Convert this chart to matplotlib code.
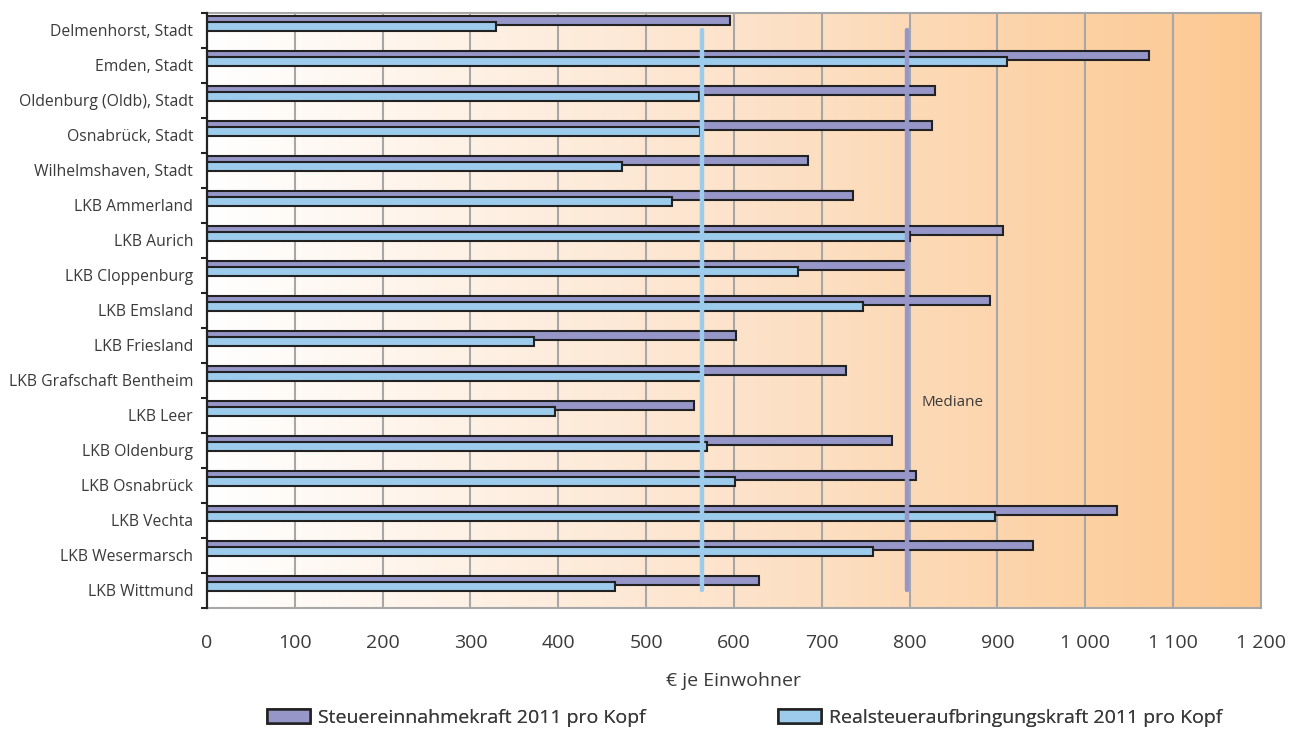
import numpy as np
import matplotlib.pyplot as plt
from matplotlib.colors import LinearSegmentedColormap
from matplotlib.patches import Patch

plt.rcParams['font.family'] = ['Open Sans', 'DejaVu Sans']

regions = [
    "Delmenhorst, Stadt", "Emden, Stadt", "Oldenburg (Oldb), Stadt",
    "Osnabrück, Stadt", "Wilhelmshaven, Stadt", "LKB Ammerland",
    "LKB Aurich", "LKB Cloppenburg", "LKB Emsland", "LKB Friesland",
    "LKB Grafschaft Bentheim", "LKB Leer", "LKB Oldenburg",
    "LKB Osnabrück", "LKB Vechta", "LKB Wesermarsch", "LKB Wittmund",
]
steuereinnahmekraft = [595, 1072, 829, 825, 684, 735, 906, 797, 891, 602,
                       727, 554, 780, 807, 1036, 940, 629]
realsteuerkraft = [329, 911, 560, 561, 473, 529, 800, 673, 747, 372,
                   564, 396, 569, 601, 897, 758, 464]
xticks = np.arange(0, 1201, 100)
xticklabels = ["0", "100", "200", "300", "400", "500", "600", "700", "800",
               "900", "1 000", "1 100", "1 200"]
legend_labels = ["Steuereinnahmekraft 2011 pro Kopf",
                 "Realsteueraufbringungskraft 2011 pro Kopf"]

purple = "#9696c8"
blue = "#9ccbeb"
grid = "#a7a7a7"
edge = "#222222"
txt = "#3a3a3a"

fig = plt.figure(figsize=(13.01, 7.42), dpi=100)
ax = fig.add_axes([0.1591, 0.1806, 0.8101, 0.8019])

n = len(regions)
y = np.arange(n)

# soft white-to-orange background
cmap = LinearSegmentedColormap.from_list("bg", ["#ffffff", "#fde3cb", "#fcc890"])
ax.imshow(np.linspace(0, 1, 256).reshape(1, -1), cmap=cmap, aspect="auto",
          extent=(0, 1200, n - 0.5, -0.5), zorder=0)

for xv in xticks[1:-1]:
    ax.axvline(xv, color=grid, lw=1.5, zorder=1)

h = 0.28
ax.barh(y - 0.286, steuereinnahmekraft, height=h, color=purple,
        edgecolor=edge, lw=1.5, zorder=3)
ax.barh(y - 0.114, realsteuerkraft, height=h, color=blue,
        edgecolor=edge, lw=1.5, zorder=4)

med_s = np.median(steuereinnahmekraft)
med_r = np.median(realsteuerkraft)
ax.plot([med_r, med_r], [0, n - 1], color=blue, lw=3.2, solid_capstyle="round", zorder=5)
ax.plot([med_s, med_s], [0, n - 1], color=purple, lw=3.2, solid_capstyle="round", zorder=5)
ax.text(med_s + 17, 10.64, "Mediane", color=txt, fontsize=11, va="center", ha="left")

ax.set_xlim(0, 1200)
ax.set_ylim(n - 0.5, -0.5)

ax.set_xticks(xticks)
ax.set_xticklabels(xticklabels, fontsize=14, color=txt)
ax.tick_params(axis="x", length=0, pad=19)
ax.set_xlabel("€ je Einwohner", fontsize=14, color=txt, labelpad=14)

ax.set_yticks(y)
ax.set_yticklabels(regions, fontsize=11.3, color=txt)
ax.set_yticks(np.arange(n + 1) - 0.5, minor=True)
ax.tick_params(axis="y", which="major", length=0, pad=10)
ax.tick_params(axis="y", which="minor", length=4, width=1.5, color=edge)

for side in ("top", "right", "bottom"):
    ax.spines[side].set_color(grid)
    ax.spines[side].set_linewidth(1.5)
ax.spines["left"].set_color(edge)
ax.spines["left"].set_linewidth(1.6)
ax.spines["left"].set_zorder(6)

# two legend entries, each pinned at its own left position
for color, label, x0 in zip([purple, blue], legend_labels, [0.2052, 0.598]):
    leg = fig.legend([Patch(facecolor=color, edgecolor=edge, lw=1.8)], [label],
                     loc="center left", bbox_to_anchor=(x0, 0.0323), frameon=False,
                     fontsize=14, handlelength=2.2, handleheight=0.72,
                     handletextpad=0.4, borderpad=0, borderaxespad=0,
                     labelcolor=txt)
    fig.add_artist(leg)

fig.savefig("out.png", dpi=100)
